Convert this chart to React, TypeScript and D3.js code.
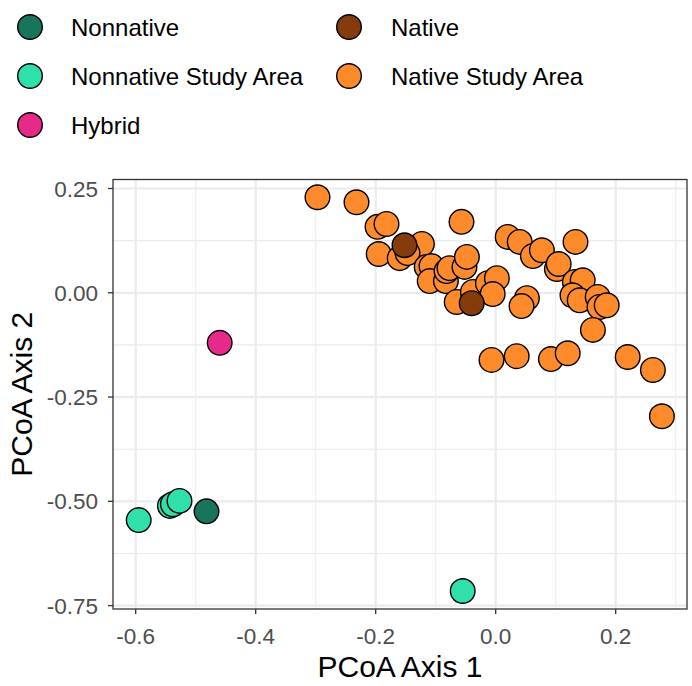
import React from "react";
import * as d3 from "d3";

const groups = ["Nonnative", "Native", "Nonnative Study Area", "Native Study Area", "Hybrid"];
const groupColors = ["#18755b", "#843c0c", "#2fe0aa", "#fd8b2c", "#e7298a"];

const nativeStudyX = [-0.297, -0.232, -0.197, -0.182, -0.195, -0.123, -0.16, -0.147, -0.115, -0.107, -0.11, -0.083, -0.082, -0.077, -0.052, -0.048, -0.065, -0.038, -0.013, 0.002, -0.005, -0.057, 0.02, 0.04, 0.062, 0.077, 0.102, 0.105, 0.133, 0.132, 0.145, 0.128, 0.14, 0.17, 0.173, 0.185, 0.052, 0.043, 0.162, -0.007, 0.035, 0.092, 0.12, 0.22, 0.262, 0.277];
const nativeStudyY = [0.229, 0.217, 0.158, 0.165, 0.093, 0.117, 0.083, 0.095, 0.062, 0.064, 0.028, 0.028, 0.052, 0.059, 0.062, 0.086, -0.022, 0.002, 0.023, 0.035, -0.003, 0.17, 0.134, 0.122, 0.088, 0.102, 0.057, 0.069, 0.122, 0.026, 0.03, -0.006, -0.018, -0.01, -0.034, -0.03, -0.013, -0.032, -0.089, -0.161, -0.152, -0.159, -0.145, -0.154, -0.185, -0.296];
const nativeX = [-0.152, -0.04];
const nativeY = [0.114, -0.025];
const nonnativeStudyX = [-0.595, -0.543, -0.538, -0.527, -0.055];
const nonnativeStudyY = [-0.545, -0.511, -0.507, -0.499, -0.715];
const nonnativeX = [-0.482];
const nonnativeY = [-0.524];
const hybridX = [-0.46];
const hybridY = [-0.12];

const xTicks = [-0.6, -0.4, -0.2, 0.0, 0.2];
const yTicks = [0.25, 0.0, -0.25, -0.5, -0.75];
const xMinor = [-0.5, -0.3, -0.1, 0.1, 0.3];
const yMinor = [0.125, -0.125, -0.375, -0.625];

const W = 692, H = 686;
const left = 113, right = 687, top = 179.5, bottom = 609;

export default function App() {
  const x = d3.scaleLinear().domain([-0.6, 0.2]).range([135.7, 615.7]);
  const y = d3.scaleLinear().domain([0.25, -0.75]).range([188.5, 605.6]);

  const layers: { xs: number[]; ys: number[]; g: string }[] = [
    { xs: nativeStudyX, ys: nativeStudyY, g: "Native Study Area" },
    { xs: nativeX, ys: nativeY, g: "Native" },
    { xs: nonnativeStudyX, ys: nonnativeStudyY, g: "Nonnative Study Area" },
    { xs: nonnativeX, ys: nonnativeY, g: "Nonnative" },
    { xs: hybridX, ys: hybridY, g: "Hybrid" },
  ];
  const color = (g: string) => groupColors[groups.indexOf(g)];

  const legendItems = [
    { g: "Nonnative", cx: 30, tx: 71, cy: 27 },
    { g: "Native", cx: 349, tx: 391, cy: 27 },
    { g: "Nonnative Study Area", cx: 30, tx: 71, cy: 76 },
    { g: "Native Study Area", cx: 349, tx: 391, cy: 76 },
    { g: "Hybrid", cx: 30, tx: 71, cy: 125 },
  ];
  const fmtY = (v: number) => d3.format(".2f")(v).replace("\u2212", "-");
  const fmtX = (v: number) => d3.format(".1f")(v).replace("\u2212", "-");

  return (
    <svg width={W} height={H} style={{ position: "absolute", left: 0, top: 0, background: "#fff" }} fontFamily="Liberation Sans, Arial, sans-serif">
      <rect x={0} y={0} width={W} height={H} fill="#fff" />
      {xMinor.map((v) => (
        <line key={"xm" + v} x1={x(v)} x2={x(v)} y1={top} y2={bottom} stroke="#ebebeb" strokeWidth={1.1} />
      ))}
      {yMinor.map((v) => (
        <line key={"ym" + v} x1={left} x2={right} y1={y(v)} y2={y(v)} stroke="#ebebeb" strokeWidth={1.1} />
      ))}
      {xTicks.map((v) => (
        <line key={"xg" + v} x1={x(v)} x2={x(v)} y1={top} y2={bottom} stroke="#ebebeb" strokeWidth={2.2} />
      ))}
      {yTicks.map((v) => (
        <line key={"yg" + v} x1={left} x2={right} y1={y(v)} y2={y(v)} stroke="#ebebeb" strokeWidth={2.2} />
      ))}
      {layers.map((l) =>
        l.xs.map((xv, i) => (
          <circle key={l.g + i} cx={x(xv)} cy={y(l.ys[i])} r={12.3} fill={color(l.g)} stroke="#000" strokeWidth={1.4} />
        ))
      )}
      <rect x={left} y={top} width={right - left} height={bottom - top} fill="none" stroke="#333" strokeWidth={1.3} />
      {xTicks.map((v) => (
        <g key={"xt" + v}>
          <line x1={x(v)} x2={x(v)} y1={bottom} y2={bottom + 5} stroke="#333" strokeWidth={1.3} />
          <text x={x(v)} y={644} textAnchor="middle" fontSize={22.5} fill="#4d4d4d">{fmtX(v)}</text>
        </g>
      ))}
      {yTicks.map((v) => (
        <g key={"yt" + v}>
          <line x1={left - 5} x2={left} y1={y(v)} y2={y(v)} stroke="#333" strokeWidth={1.3} />
          <text x={left - 15} y={y(v) + 8} textAnchor="end" fontSize={22.5} fill="#4d4d4d">{fmtY(v)}</text>
        </g>
      ))}
      <text x={(left + right) / 2} y={677} textAnchor="middle" fontSize={30} fill="#000">PCoA Axis 1</text>
      <text transform={`translate(32,${(top + bottom) / 2}) rotate(-90)`} textAnchor="middle" fontSize={30} fill="#000">PCoA Axis 2</text>
      {legendItems.map((it) => (
        <g key={it.g}>
          <circle cx={it.cx} cy={it.cy} r={12.3} fill={color(it.g)} stroke="#000" strokeWidth={1.4} />
          <text x={it.tx} y={it.cy + 8.5} fontSize={24} fill="#000">{it.g}</text>
        </g>
      ))}
    </svg>
  );
}
